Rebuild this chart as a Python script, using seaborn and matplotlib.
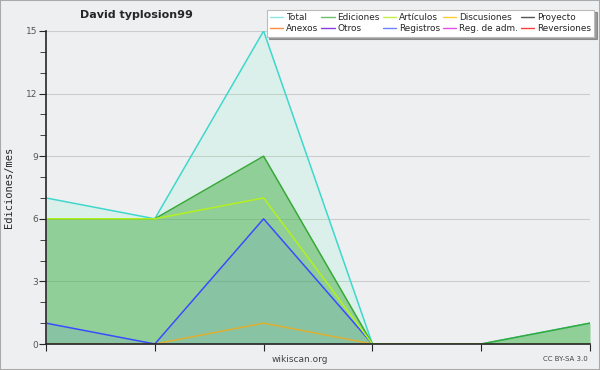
import matplotlib
matplotlib.use("Agg")
import matplotlib.pyplot as plt
from matplotlib.lines import Line2D
from matplotlib.patches import Rectangle
from matplotlib.ticker import MultipleLocator
import numpy as np
import pandas as pd
import seaborn as sns

# monthly edit counts (6 months, x axis has no labels)
months = [0, 1, 2, 3, 4, 5]
total = [7, 6, 15, 0, 0, 1]
ediciones = [6, 6, 9, 0, 0, 1]
articulos = [6, 6, 7, 0, 0, 0]
registros = [1, 0, 6, 0, 0, 0]
discusiones = [0, 0, 1, 0, 0, 0]

legend_names = ["Total", "Anexos", "Ediciones", "Otros", "Artículos",
                "Registros", "Discusiones", "Reg. de adm.", "Proyecto", "Reversiones"]
legend_colors = ["#8ee6e4", "#ff8a3c", "#6cc06c", "#8a3ce0", "#c4f040",
                 "#6e80ff", "#ffcc33", "#e24ee8", "#555555", "#ff3a3a"]

df = pd.DataFrame({"mes": months, "Total": total, "Ediciones": ediciones,
                   "Artículos": articulos, "Registros": registros,
                   "Discusiones": discusiones})

sns.set_style("ticks")
plt.rcParams["font.family"] = ["DejaVu Sans"]

bg = "#eeeff1"
fig = plt.figure(figsize=(6, 3.7), dpi=100, facecolor=bg)
ax = fig.add_axes([46/600, 26/370, 544/600, 313/370])
ax.set_facecolor(bg)

# fills
ax.fill_between(df["mes"], df["Total"], color="#6ffcc2", alpha=0.15, lw=0)
ax.fill_between(df["mes"], df["Ediciones"], color="#38a838", alpha=0.45, lw=0)
ax.fill_between(df["mes"], df["Registros"], color="#4060ff", alpha=0.1, lw=0)

# lines
sns.lineplot(data=df, x="mes", y="Total", color="#3ed8cc", lw=1.1, ax=ax)
sns.lineplot(data=df, x="mes", y="Discusiones", color="#e0b030", lw=1.1, ax=ax)
sns.lineplot(data=df, x="mes", y="Registros", color="#3a4cff", lw=1.1, ax=ax)
sns.lineplot(data=df, x="mes", y="Ediciones", color="#38a838", lw=1.1, ax=ax)
sns.lineplot(data=df, x="mes", y="Artículos", color="#b4f020", lw=1.1, ax=ax)

ax.set_xlim(0, 5)
ax.set_ylim(0, 15)
ax.set_xticks(months)
ax.set_xticklabels([])
ax.yaxis.set_major_locator(MultipleLocator(3))
ax.yaxis.set_minor_locator(MultipleLocator(1))
ax.tick_params(axis="y", which="major", length=5, labelsize=6.5, labelcolor="#555555", pad=1)
ax.tick_params(axis="y", which="minor", length=4)
ax.tick_params(axis="x", length=5)
ax.grid(axis="y", which="major", color="#cccccc", lw=0.8)
ax.set_axisbelow(True)
for s in ["top", "right"]:
    ax.spines[s].set_visible(False)
ax.spines["left"].set_linewidth(1.2)
ax.spines["bottom"].set_linewidth(1.2)
ax.set_xlabel("")
ax.set_ylabel("Ediciones/mes", family="DejaVu Sans Mono", fontsize=7.5)
ax.yaxis.set_label_coords(-0.058, 0.5)

handles = [Line2D([], [], color=c, lw=1) for c in legend_colors]
leg = fig.legend(handles, legend_names, ncol=5, loc="upper right",
                 bbox_to_anchor=(0.99, 0.974), fontsize=6.4, frameon=True,
                 fancybox=False, shadow=True, handlelength=1.5, handletextpad=0.3,
                 columnspacing=0.35, labelspacing=0.3, borderpad=0.35,
                 borderaxespad=0)
leg.get_frame().set_edgecolor("#bbbbbb")
leg.get_frame().set_linewidth(0.8)

fig.text(136/600, 1 - 15/370, "David typlosion99", ha="center", va="center",
         fontsize=8, fontweight="bold")
fig.text(300/600, 1 - 359/370, "wikiscan.org", ha="center", va="center",
         fontsize=6.5, color="#444444")
fig.text(588/600, 1 - 359/370, "CC BY-SA 3.0", ha="right", va="center",
         fontsize=5, color="#444444")

fig.patches.append(Rectangle((0, 0), 1, 1, transform=fig.transFigure,
                             fill=False, edgecolor="#aaaaaa", lw=1.5))

fig.savefig("out.png", dpi=100, facecolor=bg)
